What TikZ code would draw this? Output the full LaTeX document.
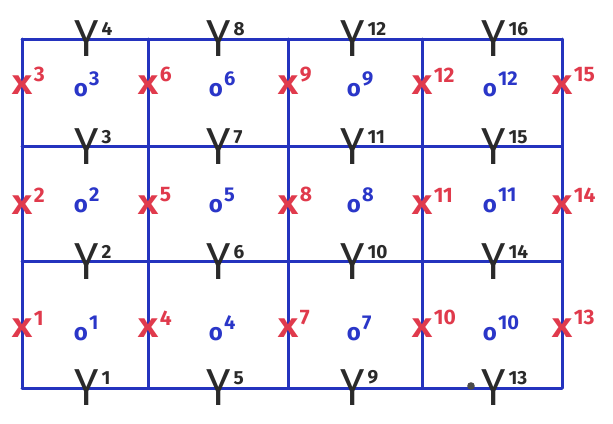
\documentclass[tikz,border=0pt]{standalone}
\usepackage{fontspec}
\setmainfont{Fira Sans}
\usetikzlibrary{positioning}
\definecolor{gridblue}{HTML}{2433BE}
\definecolor{xred}{HTML}{E03A4C}
\definecolor{oblue}{HTML}{2A36C8}
\definecolor{yink}{HTML}{2A2A2A}

\begin{document}
\begin{tikzpicture}[x=1pt,y=-1pt,
    gridline/.style={draw=gridblue,line width=3pt,line cap=round},
    xmark/.style={text=xred,inner sep=0pt,font=\fontsize{27}{27}\selectfont\bfseries},
    xsup/.style={text=xred,inner sep=0pt,font=\fontsize{21}{21}\selectfont\bfseries,xshift=2pt,yshift=-7pt},
    omark/.style={text=oblue,inner sep=0pt,font=\fontsize{24}{24}\selectfont\bfseries},
    osup/.style={text=oblue,inner sep=0pt,font=\fontsize{20}{20}\selectfont\bfseries,xshift=1pt,yshift=-3pt},
    ymark/.style={text=yink,inner sep=0pt,font=\fontsize{52}{52}\selectfont},
    ysup/.style={text=yink,inner sep=0pt,font=\fontsize{19}{19}\selectfont\bfseries,xshift=2pt,yshift=-9pt}]
  \useasboundingbox (0,0) rectangle (613,423);
  % cell borders
  \foreach \gx in {22,148,288,422,562}
    \draw[gridline] (\gx,39) -- (\gx,388);
  \foreach \gy in {39,146,261,388}
    \draw[gridline] (22,\gy) -- (562,\gy);
  % X on the vertical lines
  \foreach \c/\gx in {0/22,1/148,2/288,3/422,4/562}
    \foreach \r/\gy in {1/328,2/205,3/85}{
      \pgfmathtruncatemacro\n{3*\c+\r}
      \node[xmark,label={[xsup]above right:\n}] (x\n) at (\gx,\gy) {\scalebox{1.3}[1]{X}};}
  % o in the cells
  \foreach \c/\gx in {0/81,1/216,2/354,3/490}
    \foreach \r/\gy in {1/334,2/206,3/90}{
      \pgfmathtruncatemacro\n{3*\c+\r}
      \node[omark,label={[osup]above right:\n}] (o\n) at (\gx,\gy) {o};}
  % Y on the horizontal lines
  \foreach \c/\gx in {0/87,1/219,2/353,3/494}
    \foreach \r/\gy in {1/388,2/262,3/147,4/39}{
      \pgfmathtruncatemacro\n{4*\c+\r}
      \node[ymark,label={[ysup]above right:\n}] (y\n) at (\gx,\gy) {\scalebox{.85}[1]{Y}};}
  \fill[yink!85] ([xshift=-23pt,yshift=2pt]y13.center) circle (3.8);
\end{tikzpicture}
\end{document}
